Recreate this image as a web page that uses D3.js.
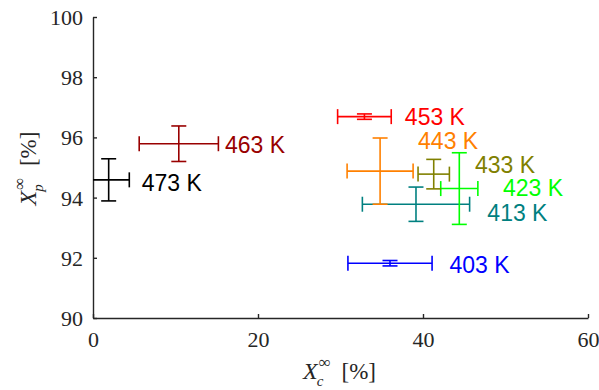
<!DOCTYPE html>
<html><head><meta charset="utf-8">
<script src="https://cdn.jsdelivr.net/npm/d3@7"></script>
<style>body{margin:0;background:#fff}svg{display:block}</style>
</head><body>
<svg id="chart" width="599" height="390"></svg>
<script>
// ---- data ----
const temps   = ["403 K","413 K","423 K","433 K","443 K","453 K","463 K","473 K"];
const xcVals  = [36.0, 39.15, 44.4, 41.3, 34.8, 32.9, 10.4, 1.9];
const xcErr   = [5.1, 6.5, 2.25, 1.9, 4.0, 3.25, 4.8, 2.5];
const xpVals  = [91.82, 93.78, 94.30, 94.78, 94.88, 96.69, 95.79, 94.59];
const xpErr   = [0.09, 0.57, 1.19, 0.49, 1.10, 0.09, 0.59, 0.70];
const colors  = ["#0000ff","#008080","#00ff00","#808000","#ff8000","#ff0000","#990000","#000000"];
// label anchor positions (data units): text start x, vertical centre y
const labelX  = [43.2, 47.8, 49.7, 46.3, 39.4, 37.8, 16.0, 5.9];
const labelY  = [91.78, 93.49, 94.32, 95.09, 95.90, 96.70, 95.75, 94.51];
const xTicks  = [0, 20, 40, 60];
const yTicks  = [90, 92, 94, 96, 98, 100];

// ---- layout ----
const svg = d3.select("#chart");
const x = d3.scaleLinear().domain([0, 60]).range([93, 588]);
const y = d3.scaleLinear().domain([90, 100]).range([318, 17]);
const axisColor = "#262626";
const serifFont = "'Liberation Serif', serif";

svg.append("defs").append("clipPath").attr("id","clip")
  .append("rect").attr("x", x(0)).attr("y", y(100)-10).attr("width", x(60)-x(0)+10).attr("height", y(90)-y(100)+10);

// axes
const gx = svg.append("g").attr("transform", `translate(0,${y(90)})`)
  .call(d3.axisBottom(x).tickValues(xTicks).tickFormat(d3.format("d")).tickSizeInner(-4).tickSizeOuter(0).tickPadding(13));
const gy = svg.append("g").attr("transform", `translate(${x(0)},0)`)
  .call(d3.axisLeft(y).tickValues(yTicks).tickFormat(d3.format("d")).tickSizeInner(-4).tickSizeOuter(0).tickPadding(10));
[gx, gy].forEach(g => {
  g.attr("font-family", null).attr("font-size", null);
  g.select(".domain").attr("stroke", axisColor).attr("stroke-width", 1.4);
  g.selectAll(".tick line").attr("stroke", axisColor).attr("stroke-width", 1.4);
  g.selectAll(".tick text").attr("fill", axisColor).style("font-family", serifFont).style("font-size", "22px");
});
gy.selectAll(".tick text").attr("dy", "0.34em");

// error bars
const plot = svg.append("g").attr("clip-path", "url(#clip)");
const cap = 7.5;
temps.forEach((t, i) => {
  const g = plot.append("g").attr("stroke", colors[i]).attr("stroke-width", 1.6).attr("fill", "none");
  const cx = x(xcVals[i]), cy = y(xpVals[i]);
  const x0 = x(xcVals[i] - xcErr[i]), x1 = x(xcVals[i] + xcErr[i]);
  const y0 = y(xpVals[i] - xpErr[i]), y1 = y(xpVals[i] + xpErr[i]);
  const segs = [
    [x0, cy, x1, cy], [x0, cy - cap, x0, cy + cap], [x1, cy - cap, x1, cy + cap],
    [cx, y0, cx, y1], [cx - cap, y0, cx + cap, y0], [cx - cap, y1, cx + cap, y1]
  ];
  g.selectAll("line").data(segs).join("line")
    .attr("x1", d => d[0]).attr("y1", d => d[1]).attr("x2", d => d[2]).attr("y2", d => d[3]);
});

// labels
svg.append("g").selectAll("text").data(temps).join("text")
  .attr("x", (d, i) => x(labelX[i])).attr("y", (d, i) => y(labelY[i]))
  .attr("dy", "0.36em")
  .attr("fill", (d, i) => colors[i])
  .style("font-family", "'Liberation Sans', Arial, sans-serif").style("font-size", "23px")
  .text(d => d);

// math-style axis labels (single text element with tspans)
function mathLabel(parent, subChar) {
  const t = parent.append("text").attr("fill", axisColor)
    .style("font-family", serifFont).style("font-size", "24px").attr("text-anchor", "middle");
  t.append("tspan").style("font-style", "italic").text("X");
  const sup = t.append("tspan").style("font-size", "17px").attr("dx", 1).attr("dy", -11).text("∞");
  const supW = sup.node().getComputedTextLength();
  t.append("tspan").style("font-size", "15px").style("font-style", "italic")
    .attr("dx", -supW - 2).attr("dy", 18).text(subChar);
  const subW = 7;
  t.append("tspan").style("font-size", "23px").attr("dx", (supW + 2 - subW) + 11).attr("dy", -7).text("[%]");
  return t;
}
const xl = svg.append("g").attr("transform", `translate(${(x(0)+x(60))/2 - 1},379)`);
mathLabel(xl, "c");
const yl = svg.append("g").attr("transform", `translate(36,${(y(90)+y(100))/2 + 1}) rotate(-90)`);
mathLabel(yl, "p");
</script>
</body></html>
